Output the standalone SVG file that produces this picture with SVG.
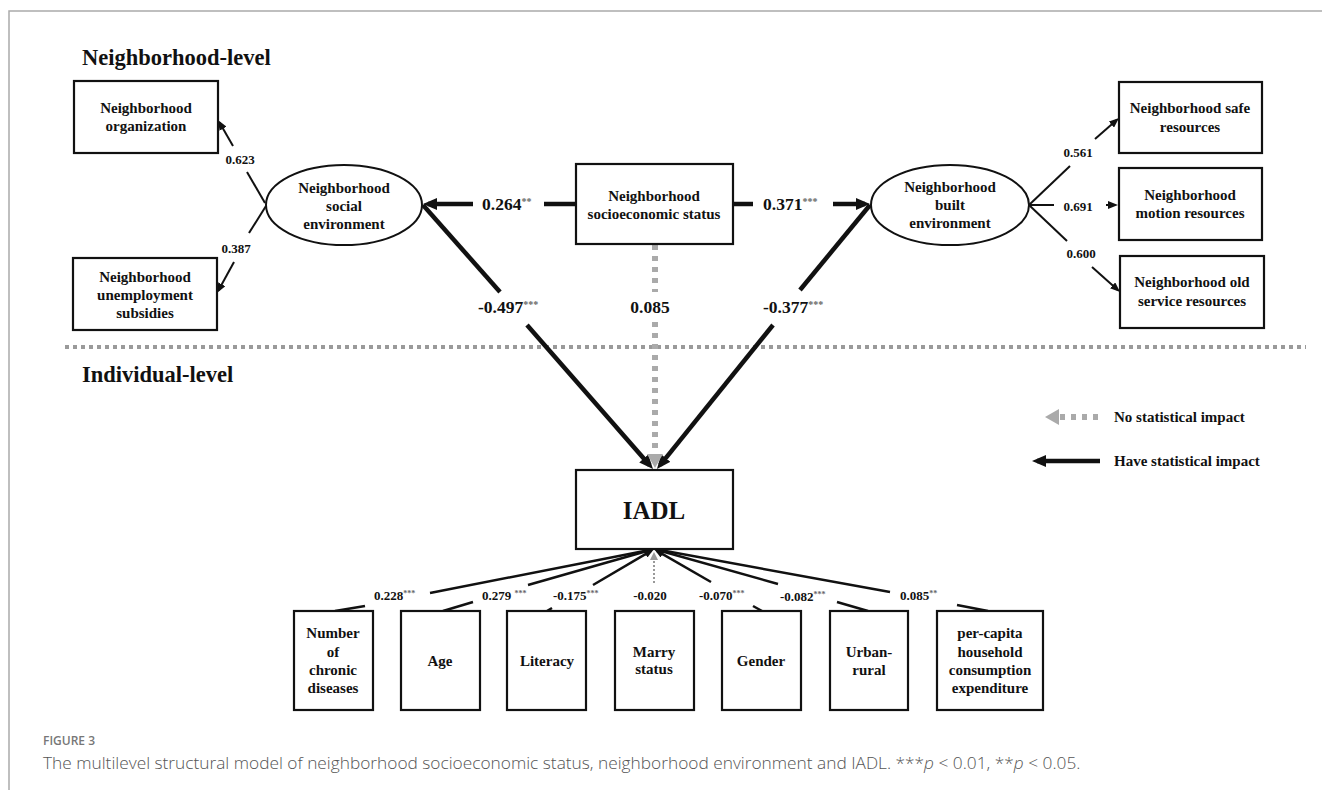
<svg xmlns="http://www.w3.org/2000/svg" width="1322" height="798" viewBox="0 0 1322 798">
<style>
.t{font-family:"Liberation Serif","Times New Roman",serif;font-weight:bold;fill:#111;}
.n{font-size:15px;text-anchor:middle;}
.h{font-size:22.5px;}
.lb{font-size:17.5px;}
.ls{font-size:13px;}
.sup{font-size:10px;fill:#666;}
.sups{font-size:8px;fill:#666;}
.box{fill:#fff;stroke:#111;stroke-width:2.2;}
.th{stroke:#111;stroke-width:4.5;fill:none;}
.tn{stroke:#111;stroke-width:2;fill:none;}
.tb{stroke:#111;stroke-width:2.5;fill:none;}
.gd{stroke:#aaa;stroke-width:6;stroke-dasharray:5 6;fill:none;}
.gdot{stroke:#999;stroke-width:2;stroke-dasharray:2 2;fill:none;}
.cap{font-family:"Open Sans","Liberation Sans",sans-serif;}
</style>
<defs>
<marker id="aT" viewBox="0 0 14 12" refX="9" refY="6" markerWidth="14" markerHeight="12" markerUnits="userSpaceOnUse" orient="auto"><path d="M0,0 L14,6 L0,12 z" fill="#111"/></marker>
<marker id="aN" viewBox="0 0 10 8" refX="7" refY="4" markerWidth="10" markerHeight="8" markerUnits="userSpaceOnUse" orient="auto"><path d="M0,0 L10,4 L0,8 z" fill="#111"/></marker>
<marker id="aB" viewBox="0 0 10 8" refX="6.5" refY="4" markerWidth="10" markerHeight="8" markerUnits="userSpaceOnUse" orient="auto"><path d="M0,0 L10,4 L0,8 z" fill="#111"/></marker>
<marker id="aG" viewBox="0 0 14 16" refX="8" refY="8" markerWidth="14" markerHeight="16" markerUnits="userSpaceOnUse" orient="auto"><path d="M0,0 L14,8 L0,16 z" fill="#aaa"/></marker>
<marker id="aGs" viewBox="0 0 8 8" refX="5" refY="4" markerWidth="8" markerHeight="8" markerUnits="userSpaceOnUse" orient="auto"><path d="M0,0 L8,4 L0,8 z" fill="#999"/></marker>
</defs>
<rect width="1322" height="798" fill="#fff"/>
<path d="M9,790 L9,11 L1322,11" fill="none" stroke="#aaa" stroke-width="1.5"/>

<text class="t h" x="82" y="65">Neighborhood-level</text>
<text class="t h" x="82" y="382">Individual-level</text>
<line x1="65" y1="347" x2="1306" y2="347" stroke="#9a9a9a" stroke-width="4" stroke-dasharray="4 4"/>

<g id="connectors">
<!-- social environment loadings -->
<line class="tn" x1="265" y1="203" x2="247" y2="172"/>
<line class="tn" x1="233" y1="146" x2="219.5" y2="122.6" marker-end="url(#aN)"/>
<line class="tn" x1="266" y1="206" x2="249" y2="233"/>
<line class="tn" x1="234" y1="262" x2="218.4" y2="290.4" marker-end="url(#aN)"/>
<!-- built environment loadings -->
<line class="tn" x1="1029" y1="205" x2="1070" y2="166"/>
<line class="tn" x1="1095" y1="139" x2="1116.7" y2="120" marker-end="url(#aN)"/>
<line class="tn" x1="1029" y1="205" x2="1054" y2="205"/>
<line class="tn" x1="1106" y1="205" x2="1115" y2="205" marker-end="url(#aN)"/>
<line class="tn" x1="1029" y1="205" x2="1067" y2="241"/>
<line class="tn" x1="1092" y1="267" x2="1117.8" y2="290" marker-end="url(#aN)"/>
<!-- SES to environments -->
<line class="th" x1="576" y1="204" x2="544" y2="204"/>
<line class="th" x1="473" y1="204" x2="428" y2="204" marker-end="url(#aT)"/>
<line class="th" x1="733" y1="204" x2="753" y2="204"/>
<line class="th" x1="833" y1="204" x2="865" y2="204" marker-end="url(#aT)"/>
<!-- to IADL -->
<line class="th" x1="423" y1="205" x2="500" y2="292"/>
<line class="th" x1="527" y1="325" x2="649.7" y2="465.2" marker-end="url(#aT)"/>
<line class="th" x1="870" y1="205" x2="800" y2="290"/>
<line class="th" x1="773" y1="325" x2="660.1" y2="465.1" marker-end="url(#aT)"/>
<line class="gd" x1="655" y1="245" x2="655" y2="292"/>
<line class="gd" x1="655" y1="322" x2="655" y2="462" marker-end="url(#aG)"/>
<!-- individual covariates -->
<line class="tb" x1="335" y1="611" x2="365" y2="606"/>
<line class="tb" x1="430" y1="593" x2="650.6" y2="549.7" marker-end="url(#aB)"/>
<line class="tb" x1="443" y1="611" x2="473" y2="602"/>
<line class="tb" x1="528" y1="585" x2="650.6" y2="550" marker-end="url(#aB)"/>
<line class="tb" x1="547" y1="611" x2="552" y2="608"/>
<line class="tb" x1="593" y1="585" x2="651" y2="550.8" marker-end="url(#aB)"/>
<line class="gdot" x1="654" y1="583" x2="654" y2="555" marker-end="url(#aGs)"/>
<line class="tb" x1="762" y1="611" x2="753" y2="606"/>
<line class="tb" x1="711" y1="582" x2="657" y2="550.8" marker-end="url(#aB)"/>
<line class="tb" x1="868" y1="611" x2="837" y2="602"/>
<line class="tb" x1="778" y1="584" x2="657.4" y2="550" marker-end="url(#aB)"/>
<line class="tb" x1="988" y1="611" x2="957" y2="605"/>
<line class="tb" x1="890" y1="592" x2="657.4" y2="549.6" marker-end="url(#aB)"/>
</g>

<g id="labels">
<text class="t ls" x="240" y="164" text-anchor="middle">0.623</text>
<text class="t ls" x="236" y="253" text-anchor="middle">0.387</text>
<text class="t ls" x="1078" y="157" text-anchor="middle">0.561</text>
<text class="t ls" x="1078" y="211" text-anchor="middle">0.691</text>
<text class="t ls" x="1081" y="258" text-anchor="middle">0.600</text>
<text class="t lb" x="482" y="210">0.264<tspan class="sup" dy="-5">**</tspan></text>
<text class="t lb" x="763" y="210">0.371<tspan class="sup" dy="-5">***</tspan></text>
<text class="t lb" x="478" y="313">-0.497<tspan class="sup" dy="-5">***</tspan></text>
<text class="t lb" x="650" y="313" text-anchor="middle">0.085</text>
<text class="t lb" x="763" y="313">-0.377<tspan class="sup" dy="-5">***</tspan></text>
<text class="t ls" x="374" y="600">0.228<tspan class="sups" dy="-4">***</tspan></text>
<text class="t ls" x="482" y="600">0.279 <tspan class="sups" dy="-4">***</tspan></text>
<text class="t ls" x="553" y="600">-0.175<tspan class="sups" dy="-4">***</tspan></text>
<text class="t ls" x="650" y="600" text-anchor="middle">-0.020</text>
<text class="t ls" x="699" y="600">-0.070<tspan class="sups" dy="-4">***</tspan></text>
<text class="t ls" x="780" y="601">-0.082<tspan class="sups" dy="-4">***</tspan></text>
<text class="t ls" x="900" y="600">0.085<tspan class="sups" dy="-4">**</tspan></text>
</g>

<g id="node-org">
<rect class="box" x="74" y="81" width="144" height="72"/>
<text class="t n" x="146" y="113">Neighborhood</text>
<text class="t n" x="146" y="131">organization</text>
</g>
<g id="node-unemp">
<rect class="box" x="73" y="258" width="144" height="72"/>
<text class="t n" x="145" y="282">Neighborhood</text>
<text class="t n" x="145" y="300">unemployment</text>
<text class="t n" x="145" y="318">subsidies</text>
</g>
<g id="node-social">
<ellipse cx="344" cy="205" rx="78" ry="40" fill="#fff" stroke="#111" stroke-width="2"/>
<text class="t n" x="344" y="193">Neighborhood</text>
<text class="t n" x="344" y="211">social</text>
<text class="t n" x="344" y="229">environment</text>
</g>
<g id="node-ses">
<rect class="box" x="576" y="164" width="157" height="80"/>
<text class="t n" x="654" y="201">Neighborhood</text>
<text class="t n" x="654" y="219">socioeconomic status</text>
</g>
<g id="node-built">
<ellipse cx="950" cy="205" rx="79" ry="40" fill="#fff" stroke="#111" stroke-width="2"/>
<text class="t n" x="950" y="192">Neighborhood</text>
<text class="t n" x="950" y="210">built</text>
<text class="t n" x="950" y="228">environment</text>
</g>
<g id="node-safe">
<rect class="box" x="1119" y="82" width="143" height="71"/>
<text class="t n" x="1190" y="113">Neighborhood safe</text>
<text class="t n" x="1190" y="132">resources</text>
</g>
<g id="node-motion">
<rect class="box" x="1119" y="168" width="143" height="72"/>
<text class="t n" x="1190" y="200">Neighborhood</text>
<text class="t n" x="1190" y="218">motion resources</text>
</g>
<g id="node-old">
<rect class="box" x="1120" y="256" width="144" height="72"/>
<text class="t n" x="1192" y="287">Neighborhood old</text>
<text class="t n" x="1192" y="306">service resources</text>
</g>
<g id="node-iadl">
<rect class="box" x="576" y="470" width="157" height="79"/>
<text class="t" x="654" y="519" font-size="25" text-anchor="middle">IADL</text>
</g>
<g id="node-chronic">
<rect class="box" x="294" y="611" width="79" height="99"/>
<text class="t n" x="333" y="638">Number</text>
<text class="t n" x="333" y="657">of</text>
<text class="t n" x="333" y="675">chronic</text>
<text class="t n" x="333" y="693">diseases</text>
</g>
<g id="node-age">
<rect class="box" x="401" y="611" width="79" height="99"/>
<text class="t n" x="440" y="666">Age</text>
</g>
<g id="node-literacy">
<rect class="box" x="507" y="611" width="79" height="99"/>
<text class="t n" x="547" y="666">Literacy</text>
</g>
<g id="node-marry">
<rect class="box" x="615" y="611" width="79" height="99"/>
<text class="t n" x="654" y="657">Marry</text>
<text class="t n" x="654" y="674">status</text>
</g>
<g id="node-gender">
<rect class="box" x="722" y="611" width="79" height="99"/>
<text class="t n" x="761" y="666">Gender</text>
</g>
<g id="node-urban">
<rect class="box" x="830" y="611" width="78" height="99"/>
<text class="t n" x="869" y="657">Urban-</text>
<text class="t n" x="869" y="675">rural</text>
</g>
<g id="node-pce">
<rect class="box" x="937" y="611" width="106" height="99"/>
<text class="t n" x="990" y="638">per-capita</text>
<text class="t n" x="990" y="657">household</text>
<text class="t n" x="990" y="675">consumption</text>
<text class="t n" x="990" y="693">expenditure</text>
</g>

<g id="legend">
<line class="gd" x1="1098" y1="417" x2="1051" y2="417" marker-end="url(#aG)"/>
<text class="t" x="1114" y="422" font-size="15">No statistical impact</text>
<line class="th" x1="1100" y1="461" x2="1037" y2="461" stroke-width="4" marker-end="url(#aT)"/>
<text class="t" x="1114" y="466" font-size="15">Have statistical impact</text>
</g>

<g id="caption">
<text class="cap" x="43" y="745" font-size="12" font-weight="600" fill="#777">FIGURE 3</text>
<text class="cap" x="43" y="769" font-size="17.3" font-weight="300" fill="#555">The multilevel structural model of neighborhood socioeconomic status, neighborhood environment and IADL. ***<tspan font-style="italic">p</tspan> &lt; 0.01, **<tspan font-style="italic">p</tspan> &lt; 0.05.</text>
</g>
</svg>
